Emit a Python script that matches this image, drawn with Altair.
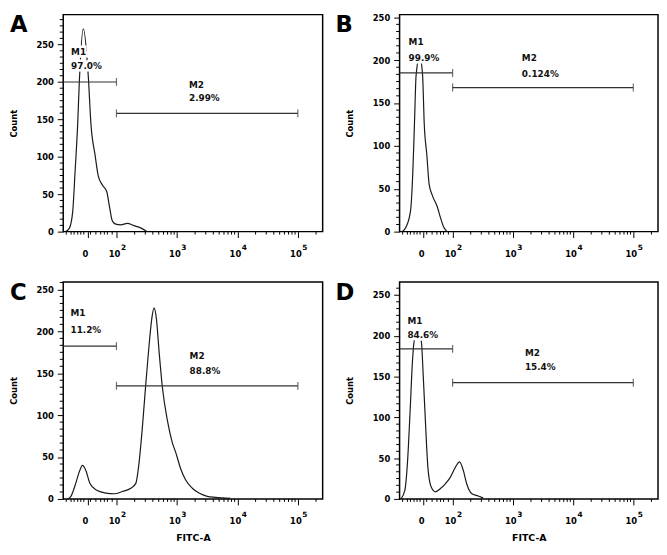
import math
import altair as alt
import pandas as pd

# x values are on the cytometer's display scale in decades (2 = 10^2, 3 = 10^3 ...);
# the linear region around 0 is placed at 1.52 on that scale.
A_x = [1.157, 1.222, 1.277, 1.315, 1.359, 1.386, 1.452, 1.534, 1.578, 1.649, 1.698,
       1.770, 1.841, 1.879, 1.934, 1.989, 2.07, 2.18, 2.29, 2.40, 2.51]
A_y = [0, 4.7, 27, 79, 144, 200, 271, 208, 144, 101, 75, 62, 53, 36, 14, 10, 9, 11, 8, 5, 0]

B_x = [1.162, 1.232, 1.303, 1.340, 1.367, 1.394, 1.454, 1.502, 1.529, 1.573, 1.611,
       1.665, 1.746, 1.80, 1.854, 1.908]
B_y = [0, 6, 25, 70, 126, 182, 205, 182, 126, 89, 55, 42, 29, 16, 5, 0]

C_x = [1.192, 1.247, 1.318, 1.384, 1.439, 1.494, 1.561, 1.660, 1.825, 1.962, 2.099,
       2.237, 2.320, 2.375, 2.430, 2.485, 2.540, 2.584, 2.622, 2.661, 2.705, 2.760,
       2.842, 2.925, 2.980, 3.062, 3.145, 3.255, 3.365, 3.502, 3.640, 3.887]
C_y = [0, 3.1, 16.7, 32, 40, 34, 18.6, 10.9, 7, 6.2, 8.9, 12.8, 18.6, 44, 86.6, 137,
       184, 215, 228, 215, 176, 133, 94, 67, 55.6, 36, 22.5, 12.8, 7, 3.1, 1.9, 0.8]

D_x = [1.143, 1.208, 1.252, 1.296, 1.334, 1.361, 1.421, 1.481, 1.514, 1.552, 1.590,
       1.645, 1.716, 1.798, 1.879, 1.961, 2.043, 2.114, 2.180, 2.234, 2.316, 2.425, 2.507]
D_y = [0, 10.7, 46, 110, 169, 193, 205, 193, 149, 90, 38.4, 14.6, 8.7, 12.7, 18.6,
       26.5, 38.4, 45.5, 34.4, 18.6, 6.7, 3.6, 1.2]

letters = ["A", "B", "C", "D"]
y_max = [290, 253, 259, 266]
m1_level = [200, 185, 182.5, 184]
m2_level = [158, 168, 135, 142.5]
m1_pct = ["97.0%", "99.9%", "11.2%", "84.6%"]
m2_pct = ["2.99%", "0.124%", "88.8%", "15.4%"]
# label anchors (left edge x, line-centre y) for M1 / pct / M2 / pct
m1_lab_x = [1.25, 1.27, 1.24, 1.25]
m1_lab_y = [240, 221, 221.5, 218]
m1_pct_y = [221, 202, 201, 200.7]
m2_lab_x = [3.20, 3.15, 3.21, 3.20]
m2_lab_y = [196, 202, 170, 179]
m2_pct_y = [178, 184, 152.7, 162]

X_MIN, X_MAX = 1.12, 5.41
ZERO_POS = 1.52
gate_lo, gate_hi = 2, 5

# major x ticks: position, base label, superscript exponent
x_major = [ZERO_POS, 2, 3, 4, 5]
x_base = ["0", "10", "10", "10", "10"]
x_exp = ["", "2", "3", "4", "5"]
linear_minor = [1.17, 1.25, 1.30, 1.36, 1.41, 1.46, 1.57, 1.66, 1.74, 1.80, 1.85, 1.93]
log_minor = [round(d + math.log10(k), 4) for d in range(2, 6) for k in range(2, 10)
             if d + math.log10(k) <= X_MAX]
x_minor = linear_minor + log_minor

label_expr_x = " : ".join(f"datum.value === {v} ? '{t}'" for v, t in zip(x_major, x_base)) + " : ''"

FONT = "DejaVu Sans"
X_TICK, X_LABPAD = 6, 12

curves = [(A_x, A_y), (B_x, B_y), (C_x, C_y), (D_x, D_y)]


def panel(i, w, h, letter_dx, show_xtitle):
    xs, ys = curves[i]
    ymax = y_max[i]
    y_major = list(range(0, int(ymax) + 1, 50))
    y_minor = [(k * 50) / 6 for k in range(0, int(ymax * 6 / 50) + 1) if k % 6]
    xscale = alt.Scale(domain=[X_MIN, X_MAX], nice=False, zero=False)
    yscale = alt.Scale(domain=[0, ymax], nice=False)

    xaxis = alt.Axis(
        values=x_major, labelExpr=label_expr_x, grid=False, domain=False, tickSize=X_TICK,
        labelPadding=X_LABPAD, labelOffset=-2.5, labelOverlap=False, labelFlush=False, labelBound=False,
        labelFont=FONT, labelFontWeight="bold", labelFontSize=8.5,
        titleFont=FONT, titleFontWeight="bold", titleFontSize=9.5, titlePadding=8,
        titleColor="black", labelColor="black", tickColor="black",
    )
    yaxis = alt.Axis(
        values=y_major, grid=False, domain=False, tickSize=6,
        labelPadding=4, labelOverlap=False, labelFlush=False, labelBound=False,
        labelFont=FONT, labelFontWeight="bold", labelFontSize=8.5,
        titleFont=FONT, titleFontWeight="bold", titleFontSize=8.5, titlePadding=18,
        titleColor="black", labelColor="black", tickColor="black",
    )
    xtitle = "FITC-A" if show_xtitle else ""

    curve = pd.DataFrame({"u": xs, "count": ys})
    line = alt.Chart(curve).mark_line(color="#1a1a1a", strokeWidth=1.2, interpolate="monotone").encode(
        x=alt.X("u:Q", scale=xscale, axis=xaxis, title=xtitle),
        y=alt.Y("count:Q", scale=yscale, axis=yaxis, title="Count"),
    )

    xminor = alt.Chart(pd.DataFrame({"v": x_minor})).mark_rule(color="black", strokeWidth=1).encode(
        x=alt.X("v:Q", scale=xscale, title=xtitle),
        y=alt.value(h), y2=alt.value(h + 3),
    )
    yminor = alt.Chart(pd.DataFrame({"v": y_minor})).mark_rule(color="black", strokeWidth=1).encode(
        y=alt.Y("v:Q", scale=yscale, title="Count"),
        x=alt.value(0), x2=alt.value(-3.5),
    )
    exps = pd.DataFrame({"v": x_major, "e": x_exp})
    exps = exps[exps["e"] != ""]
    exponent = alt.Chart(exps).mark_text(
        align="left", baseline="top", font=FONT, fontWeight="bold", fontSize=7.5, color="black", dx=4.5,
    ).encode(
        x=alt.X("v:Q", scale=xscale, title=xtitle),
        y=alt.value(h + X_TICK + X_LABPAD - 5.5),
        text="e:N",
    )

    gates = pd.DataFrame({
        "x1": [X_MIN, gate_lo], "x2": [gate_lo, gate_hi],
        "y": [m1_level[i], m2_level[i]],
    })
    rules = alt.Chart(gates).mark_rule(color="#333", strokeWidth=1.2).encode(
        x=alt.X("x1:Q", scale=xscale, title=xtitle),
        x2="x2:Q",
        y=alt.Y("y:Q", scale=yscale, title="Count"),
    )
    ends = pd.DataFrame({
        "x": [gate_lo, gate_lo, gate_hi],
        "y": [m1_level[i], m2_level[i], m2_level[i]],
    })
    end_ticks = alt.Chart(ends).mark_tick(orient="vertical", size=8, thickness=1.2, color="#333").encode(
        x=alt.X("x:Q", scale=xscale, title=xtitle),
        y=alt.Y("y:Q", scale=yscale, title="Count"),
    )

    labels = pd.DataFrame({
        "x": [m1_lab_x[i], m1_lab_x[i], m2_lab_x[i], m2_lab_x[i]],
        "y": [m1_lab_y[i], m1_pct_y[i], m2_lab_y[i], m2_pct_y[i]],
        "t": ["M1", m1_pct[i], "M2", m2_pct[i]],
    })
    enc = dict(
        x=alt.X("x:Q", scale=xscale, title=xtitle),
        y=alt.Y("y:Q", scale=yscale, title="Count"),
        text="t:N",
    )
    halo = alt.Chart(labels).mark_text(
        align="left", baseline="middle", font=FONT, fontWeight="bold", fontSize=9,
        color="white", stroke="white", strokeWidth=5,
    ).encode(**enc)
    text = alt.Chart(labels).mark_text(
        align="left", baseline="middle", font=FONT, fontWeight="bold", fontSize=9, color="#111",
    ).encode(**enc)

    letter = alt.Chart(pd.DataFrame({"t": [letters[i]]})).mark_text(
        align="left", baseline="top", font=FONT, fontWeight="bold", fontSize=23, color="black",
    ).encode(text="t:N", x=alt.value(letter_dx), y=alt.value(0))

    return alt.layer(line, xminor, yminor, exponent, rules, end_ticks, halo, text, letter).properties(
        width=w, height=h)


top = alt.hconcat(panel(0, 263, 220, -54, False), panel(1, 262, 220, -65, False), spacing=11)
bottom = alt.hconcat(panel(2, 263, 220, -54, True), panel(3, 262, 220, -65, True), spacing=11)

chart = alt.vconcat(top, bottom, spacing=22).properties(
    padding=0, background="white"
).configure_view(stroke="black", strokeWidth=1.5)

chart.save("out.html", embed_options={"renderer": "svg", "actions": False})
